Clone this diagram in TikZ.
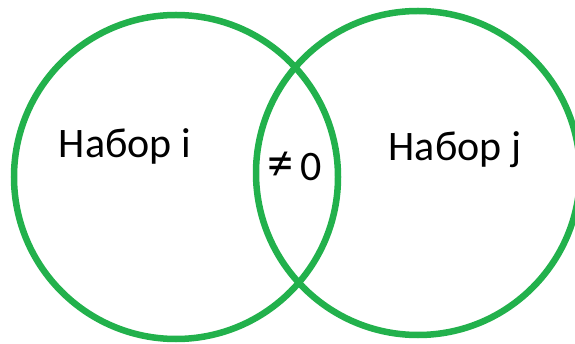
\documentclass[tikz,border=0pt]{standalone}
\usepackage{fontspec}
\setmainfont{Carlito}
\definecolor{setgreen}{RGB}{34,177,76}
\tikzset{
  setring/.style={draw=setgreen, line width=6.5pt, fill=none},
  setlabel/.style={font=\fontsize{42}{48}\selectfont, text=black, inner sep=0pt}
}
\begin{document}
\begin{tikzpicture}[x=1pt,y=-1pt]
  \useasboundingbox (0,0) rectangle (575,344);
  \clip (0,0) rectangle (575,344);
  % the two overlapping sets
  \node[setring, circle, minimum size=324pt, inner sep=0pt] (seti) at (176,177) {};
  \node[setring, circle, minimum size=324pt, inner sep=0pt] (setj) at (418,173) {};
  % labels
  \node[setlabel] (labi) at (125,146) {Набор i};
  \node[setlabel] (labj) at (455,150) {Набор j};
  \node[setlabel] (labx) at (295,166) {\scalebox{1.25}{≠}\,0};
\end{tikzpicture}
\end{document}
